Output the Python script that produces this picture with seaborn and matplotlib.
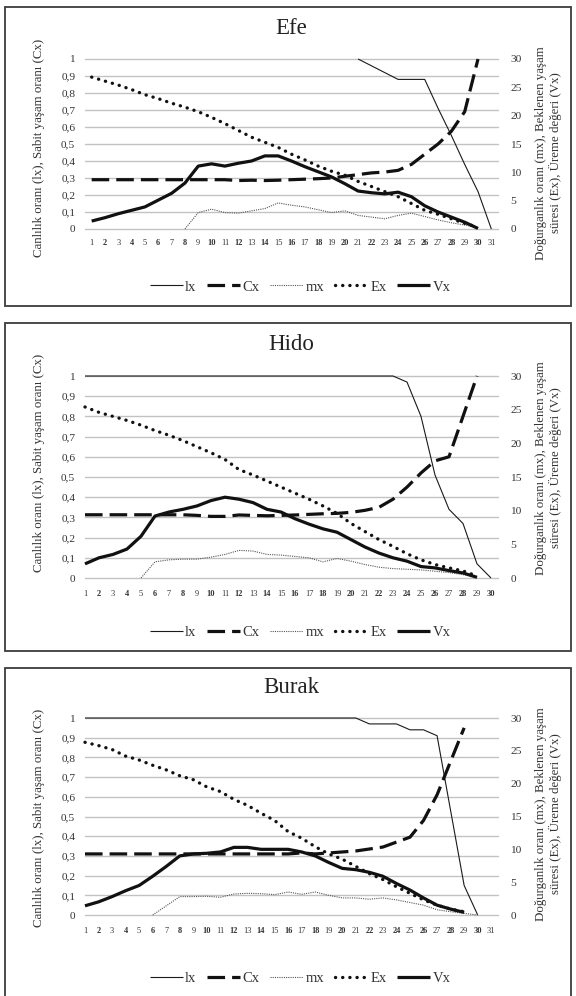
import numpy as np
import pandas as pd
import matplotlib
matplotlib.use("Agg")
import matplotlib.pyplot as plt
from matplotlib.patches import Rectangle
import seaborn as sns

sns.set_style("white")
plt.rcParams['font.family'] = ['Liberation Serif', 'DejaVu Serif']

# ---------------- data ----------------
series_names = ["lx", "Cx", "mx", "Ex", "Vx"]

# Efe
efe_labels = list(range(1, 32))
efe_lx = [None, None, None, None, None, None, None, None, None, None,
          None, None, None, None, None, None, None, None, None, None,
          1.0, 0.96, 0.92, 0.88, 0.88, 0.88, 0.71, 0.55, 0.38, 0.22, 0.0]
efe_cx = [0.29, 0.29, 0.29, 0.29, 0.29, 0.29, 0.29, 0.29, 0.29, 0.29,
          0.29, 0.285, 0.287, 0.285, 0.287, 0.29, 0.293, 0.296, 0.30, 0.31,
          0.32, 0.33, 0.335, 0.345, 0.38, 0.44, 0.50, 0.575, 0.69, 1.0]
efe_mx = [None, None, None, None, None, None, None, 0.0, 2.9, 3.5,
          2.9, 2.8, 3.2, 3.6, 4.6, 4.2, 3.9, 3.4, 2.9, 3.2,
          2.4, 2.1, 1.8, 2.4, 2.8, 2.2, 1.6, 1.1, 0.7, 0.2]
efe_ex = [26.8, 26.1, 25.4, 24.6, 23.7, 23.0, 22.2, 21.5, 20.7, 19.7,
          18.6, 17.4, 16.2, 15.3, 14.4, 13.2, 12.2, 11.1, 10.2, 9.5,
          8.4, 7.5, 6.6, 5.7, 4.5, 3.3, 2.6, 1.8, 1.0, 0.3]
efe_vx = [1.4, 2.0, 2.7, 3.3, 3.9, 5.1, 6.3, 8.1, 11.1, 11.5,
          11.1, 11.6, 12.0, 12.9, 12.9, 12.0, 11.0, 10.1, 9.2, 8.0,
          6.7, 6.4, 6.2, 6.5, 5.7, 4.1, 3.0, 2.1, 1.2, 0.1]

# Hido
hido_labels = list(range(1, 31))
hido_lx = [1.0, 1.0, 1.0, 1.0, 1.0, 1.0, 1.0, 1.0, 1.0, 1.0,
           1.0, 1.0, 1.0, 1.0, 1.0, 1.0, 1.0, 1.0, 1.0, 1.0,
           1.0, 1.0, 1.0, 0.97, 0.80, 0.51, 0.34, 0.27, 0.07, 0.0]
hido_cx = [0.313, 0.313, 0.313, 0.313, 0.313, 0.313, 0.313, 0.313, 0.31, 0.305,
           0.305, 0.312, 0.31, 0.308, 0.31, 0.312, 0.315, 0.318, 0.32, 0.325,
           0.335, 0.35, 0.39, 0.45, 0.52, 0.58, 0.60, 0.80, 1.0]
hido_mx = [None, None, None, None, 0.0, 2.4, 2.7, 2.8, 2.8, 3.1,
           3.5, 4.1, 4.0, 3.5, 3.4, 3.2, 3.0, 2.4, 2.9, 2.5,
           2.0, 1.6, 1.4, 1.3, 1.2, 1.0, 0.8, 0.5, 0.1]
hido_ex = [25.4, 24.6, 24.0, 23.4, 22.7, 21.9, 21.2, 20.4, 19.5, 18.6,
           17.6, 16.1, 15.3, 14.4, 13.5, 12.6, 11.7, 10.7, 9.6, 8.1,
           6.9, 5.7, 4.7, 3.6, 2.7, 2.0, 1.5, 1.05, 0.3]
hido_vx = [2.1, 3.0, 3.5, 4.3, 6.2, 9.2, 9.8, 10.2, 10.7, 11.5,
           12.0, 11.7, 11.2, 10.2, 9.8, 8.8, 8.0, 7.3, 6.8, 5.7,
           4.6, 3.7, 3.0, 2.5, 1.7, 1.5, 1.1, 0.75, 0.1]

# Burak
burak_labels = list(range(1, 32))
burak_lx = [1.0, 1.0, 1.0, 1.0, 1.0, 1.0, 1.0, 1.0, 1.0, 1.0,
            1.0, 1.0, 1.0, 1.0, 1.0, 1.0, 1.0, 1.0, 1.0, 1.0,
            1.0, 0.97, 0.97, 0.97, 0.94, 0.94, 0.91, 0.53, 0.15, 0.0]
burak_cx = [0.31, 0.31, 0.31, 0.31, 0.31, 0.31, 0.31, 0.31, 0.31, 0.31,
            0.31, 0.31, 0.31, 0.31, 0.31, 0.31, 0.315, 0.31, 0.315, 0.32,
            0.325, 0.335, 0.345, 0.37, 0.395, 0.48, 0.61, 0.78, 0.95]
burak_mx = [None, None, None, None, None, 0.0, 1.4, 2.8, 2.8, 2.85,
            2.7, 3.2, 3.3, 3.25, 3.1, 3.5, 3.15, 3.5, 3.0, 2.6,
            2.6, 2.4, 2.6, 2.3, 1.9, 1.5, 0.8, 0.5, 0.25, 0.0]
burak_ex = [26.3, 25.8, 25.2, 24.2, 23.6, 22.8, 22.1, 21.2, 20.6, 19.5,
            18.8, 17.6, 16.7, 15.5, 14.4, 12.7, 11.7, 10.4, 9.3, 8.5,
            7.4, 6.3, 5.4, 4.3, 3.3, 2.3, 1.5, 0.9, 0.5]
burak_vx = [1.4, 2.0, 2.8, 3.7, 4.5, 5.9, 7.4, 9.0, 9.3, 9.4,
            9.6, 10.3, 10.3, 10.0, 10.0, 10.0, 9.6, 9.0, 8.0, 7.1,
            6.9, 6.5, 5.9, 4.8, 3.8, 2.6, 1.5, 0.9, 0.4]

left_title = "Canlılık oranı (lx), Sabit yaşam oranı (Cx)"
right_title = "Doğurganlık oranı (mx), Beklenen yaşam\nsüresi (Ex), Üreme değeri (Vx)"
left_ticks = [0, 0.1, 0.2, 0.3, 0.4, 0.5, 0.6, 0.7, 0.8, 0.9, 1.0]
left_ticklabels = ["0", "0,1", "0,2", "0,3", "0,4", "0,5", "0,6", "0,7", "0,8", "0,9", "1"]
right_ticks = [0, 5, 10, 15, 20, 25, 30]

# ---------------- layout (pixels) ----------------
W, H = 576, 996
def fx(px):
    return px / W
def fy(py):
    return 1 - py / H

panels = [
    dict(title="Efe", labels=efe_labels, lx=efe_lx, cx=efe_cx, mx=efe_mx, ex=efe_ex, vx=efe_vx,
         box=(7, 306), ax=(59, 229), xlim=(0.5, 31.5), title_y=28, legend_y=287,
         xpad=7.0, ltitle_y=148, rtitle_y=153),
    dict(title="Hido", labels=hido_labels, lx=hido_lx, cx=hido_cx, mx=hido_mx, ex=hido_ex, vx=hido_vx,
         box=(323, 651), ax=(376, 578), xlim=(1, 30.5), title_y=345, legend_y=632,
         xpad=9.0, ltitle_y=463, rtitle_y=468),
    dict(title="Burak", labels=burak_labels, lx=burak_lx, cx=burak_cx, mx=burak_mx, ex=burak_ex, vx=burak_vx,
         box=(668, 1000), ax=(718, 915), xlim=(1, 31.5), title_y=687, legend_y=978,
         xpad=8.4, ltitle_y=818, rtitle_y=814),
]

styles = {
    "lx": dict(color="#1a1a1a", lw=0.8, ls="-", cap="butt"),
    "Cx": dict(color="#111111", lw=2.3, ls=(0, (5.5, 2.2)), cap="butt"),
    "mx": dict(color="#555555", lw=0.8, ls=(0, (1, 1)), cap="butt"),
    "Ex": dict(color="#111111", lw=2.4, ls=(0, (0.05, 2.1)), cap="round"),
    "Vx": dict(color="#111111", lw=2.3, ls="-", cap="butt"),
}

text_color = "#333333"
fig = plt.figure(figsize=(W / 100, H / 100), dpi=100)

def draw(ax, vals, name):
    x = np.arange(1, len(vals) + 1)
    y = np.array([np.nan if v is None else v for v in vals], dtype=float)
    m = ~np.isnan(y)
    df = pd.DataFrame({"x": x[m], "y": y[m]})
    st = styles[name]
    sns.lineplot(data=df, x="x", y="y", ax=ax, color=st["color"], linewidth=st["lw"],
                 estimator=None, sort=False, label=name, legend=False)
    ln = ax.lines[-1]
    ln.set_linestyle(st["ls"])
    ln.set_dash_capstyle(st["cap"])
    ln.set_solid_capstyle("butt")
    ln.set_clip_on(False)
    return ln

for p in panels:
    top, bot = p["ax"]
    ax = fig.add_axes([fx(85), fy(bot), fx(498) - fx(85), (bot - top) / H])
    ax2 = ax.twinx()

    handles = {}
    handles["lx"] = draw(ax, p["lx"], "lx")
    handles["Cx"] = draw(ax, p["cx"], "Cx")
    handles["mx"] = draw(ax2, p["mx"], "mx")
    handles["Ex"] = draw(ax2, p["ex"], "Ex")
    handles["Vx"] = draw(ax2, p["vx"], "Vx")

    ax.set_xlim(*p["xlim"])
    ax.set_ylim(0, 1)
    ax2.set_ylim(0, 30)
    ax.set_yticks(left_ticks)
    ax.set_yticklabels(left_ticklabels)
    ax2.set_yticks(right_ticks)
    ax2.set_yticklabels([str(t) for t in right_ticks])
    ax.set_xticks(p["labels"])
    ax.set_xticklabels([str(v) for v in p["labels"]])
    for t in ax.get_xticklabels():
        if int(t.get_text()) % 2 == 0:
            t.set_fontweight("bold")
    ax.set_xlabel("")
    ax.set_ylabel("")
    ax2.set_ylabel("")
    ax.grid(axis="y", color="#c2c2c2", lw=1.0)
    ax.grid(axis="x", visible=False)
    ax2.grid(False)
    for gl in ax.get_ygridlines():
        gl.set_clip_on(False)
    ax.set_axisbelow(True)
    for a in (ax, ax2):
        for s in a.spines.values():
            s.set_visible(False)
    ax.tick_params(axis="y", length=0, pad=7, labelsize=8.2, labelcolor=text_color)
    ax2.tick_params(axis="y", length=0, pad=9, labelsize=8.2, labelcolor=text_color)
    ax.tick_params(axis="x", length=0, pad=p["xpad"], labelsize=6.0, labelcolor=text_color)

    fig.text(fx(291), fy(p["title_y"]), p["title"], ha="center", va="center",
             fontsize=16.5, color="#222222")
    fig.text(fx(39), fy(p["ltitle_y"]), left_title, rotation=90, ha="center", va="center",
             fontsize=9.3, color=text_color)
    fig.text(fx(548.5), fy(p["rtitle_y"]), right_title, rotation=90, ha="center", va="center",
             fontsize=9.3, color=text_color, multialignment="center", linespacing=1.12)

    fig.legend([handles[n] for n in series_names], series_names, loc="center",
               bbox_to_anchor=(fx(300), fy(p["legend_y"])), ncol=5, frameon=False,
               handlelength=2.3, handletextpad=0.15, columnspacing=0.7, fontsize=10.5,
               labelcolor=text_color)

    b0, b1 = p["box"]
    fig.add_artist(Rectangle((fx(5), fy(b1)), fx(571) - fx(5), (b1 - b0) / H,
                             transform=fig.transFigure, fill=False,
                             edgecolor="#3c3c3c", lw=1.3, clip_on=False))

fig.savefig("out.png", dpi=100, facecolor="white")
